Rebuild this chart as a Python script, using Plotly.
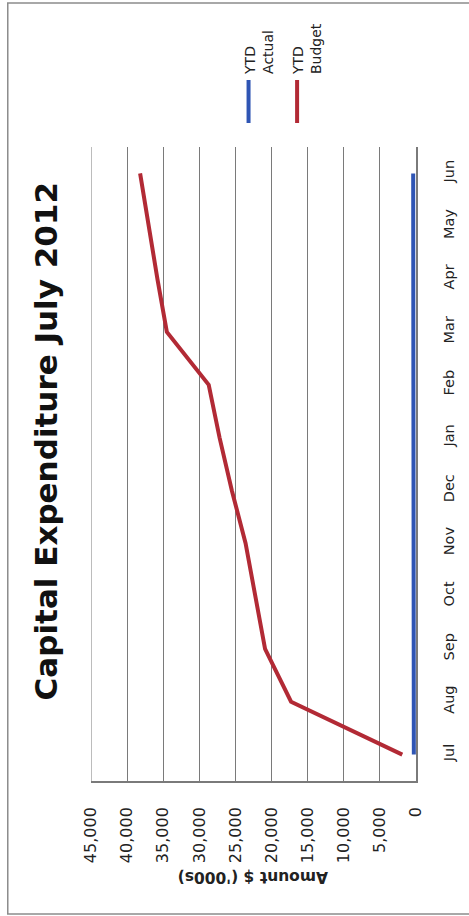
import plotly.graph_objects as go

# Monthly year-to-date capital expenditure, $ thousands (financial year Jul-Jun)
months = ["Jul", "Aug", "Sep", "Oct", "Nov", "Dec", "Jan", "Feb", "Mar", "Apr", "May", "Jun"]
ytd_actual = [300, 330, 340, 340, 350, 350, 350, 360, 360, 370, 380, 390]
ytd_budget = [1900, 17300, 20900, 22200, 23600, 25500, 27200, 28700, 34500, 35800, 37000, 38200]
value_ticks = [0, 5000, 10000, 15000, 20000, 25000, 30000, 35000, 40000, 45000]

series_names = ["YTD<br>Actual", "YTD<br>Budget"]
series_colors = ["#2F55B4", "#B22A35"]

W, H = 469, 916
L, R, T, B = 91, 50, 147, 135
PW, PH = W - L - R, H - T - B
FONT = "DejaVu Sans"
GRID = "#7a7a7a"


def px(x):
    """pixel column -> paper x"""
    return (x - L) / PW


def py(y):
    """pixel row -> paper y"""
    return (H - B - y) / PH


fig = go.Figure()
for name, vals, col in zip(series_names, [ytd_actual, ytd_budget], series_colors):
    fig.add_trace(go.Scatter(
        x=vals, y=months, mode="lines", name=name.replace("<br>", " "),
        line=dict(color=col, width=4), showlegend=False,
    ))

shapes = [
    # outer chart frame
    dict(type="rect", xref="paper", yref="paper",
         x0=px(7), x1=px(475), y0=py(914), y1=py(3),
         line=dict(color="#8c8c8c", width=1.5), layer="below"),
    # gridline at the far end of the value range
    dict(type="line", xref="x", yref="paper",
         x0=value_ticks[-1], x1=value_ticks[-1], y0=0, y1=1,
         line=dict(color=GRID, width=1), layer="below"),
]
annotations = [
    dict(text="<b>Capital Expenditure July 2012</b>", textangle=-90,
         xref="paper", yref="paper", x=px(46), y=py(441),
         xanchor="center", yanchor="middle", showarrow=False,
         font=dict(family=FONT, size=31, color="#111")),
    dict(text="<b>Amount $ ('000s)</b>", textangle=180,
         xref="paper", yref="paper", x=px(255), y=py(877),
         xanchor="center", yanchor="middle", showarrow=False,
         font=dict(family=FONT, size=15.5, color="#222")),
]

# legend, drawn turned with the rest of the chart
for i, (name, col) in enumerate(zip(series_names, series_colors)):
    lx = 250 + 49 * i
    shapes.append(dict(type="line", xref="paper", yref="paper",
                       x0=px(lx), x1=px(lx), y0=py(123), y1=py(80),
                       line=dict(color=col, width=4)))
    annotations.append(dict(text=name, textangle=-90, align="left",
                            xref="paper", yref="paper", x=px(lx + 10), y=py(77),
                            xanchor="center", yanchor="bottom", showarrow=False,
                            font=dict(family=FONT, size=14, color="#222")))

fig.update_layout(
    width=W, height=H,
    margin=dict(l=L, r=R, t=T, b=B),
    paper_bgcolor="white", plot_bgcolor="white",
    shapes=shapes, annotations=annotations,
    xaxis=dict(
        range=[45000, 0], tickvals=value_ticks, tickformat=",",
        tickangle=-90, ticklabelstandoff=18,
        showgrid=True, gridcolor=GRID, gridwidth=1,
        zeroline=False, showline=True, linecolor=GRID, linewidth=1.5,
        tickfont=dict(family=FONT, size=16, color="#222"),
    ),
    yaxis=dict(
        type="category", categoryarray=months, range=[-0.5, 11.5],
        side="right", tickangle=-90, ticklabelstandoff=19,
        showgrid=False, zeroline=False, showline=True, linecolor=GRID, linewidth=1.5,
        tickfont=dict(family=FONT, size=14.5, color="#222"),
    ),
)

fig.write_html("out.html")
